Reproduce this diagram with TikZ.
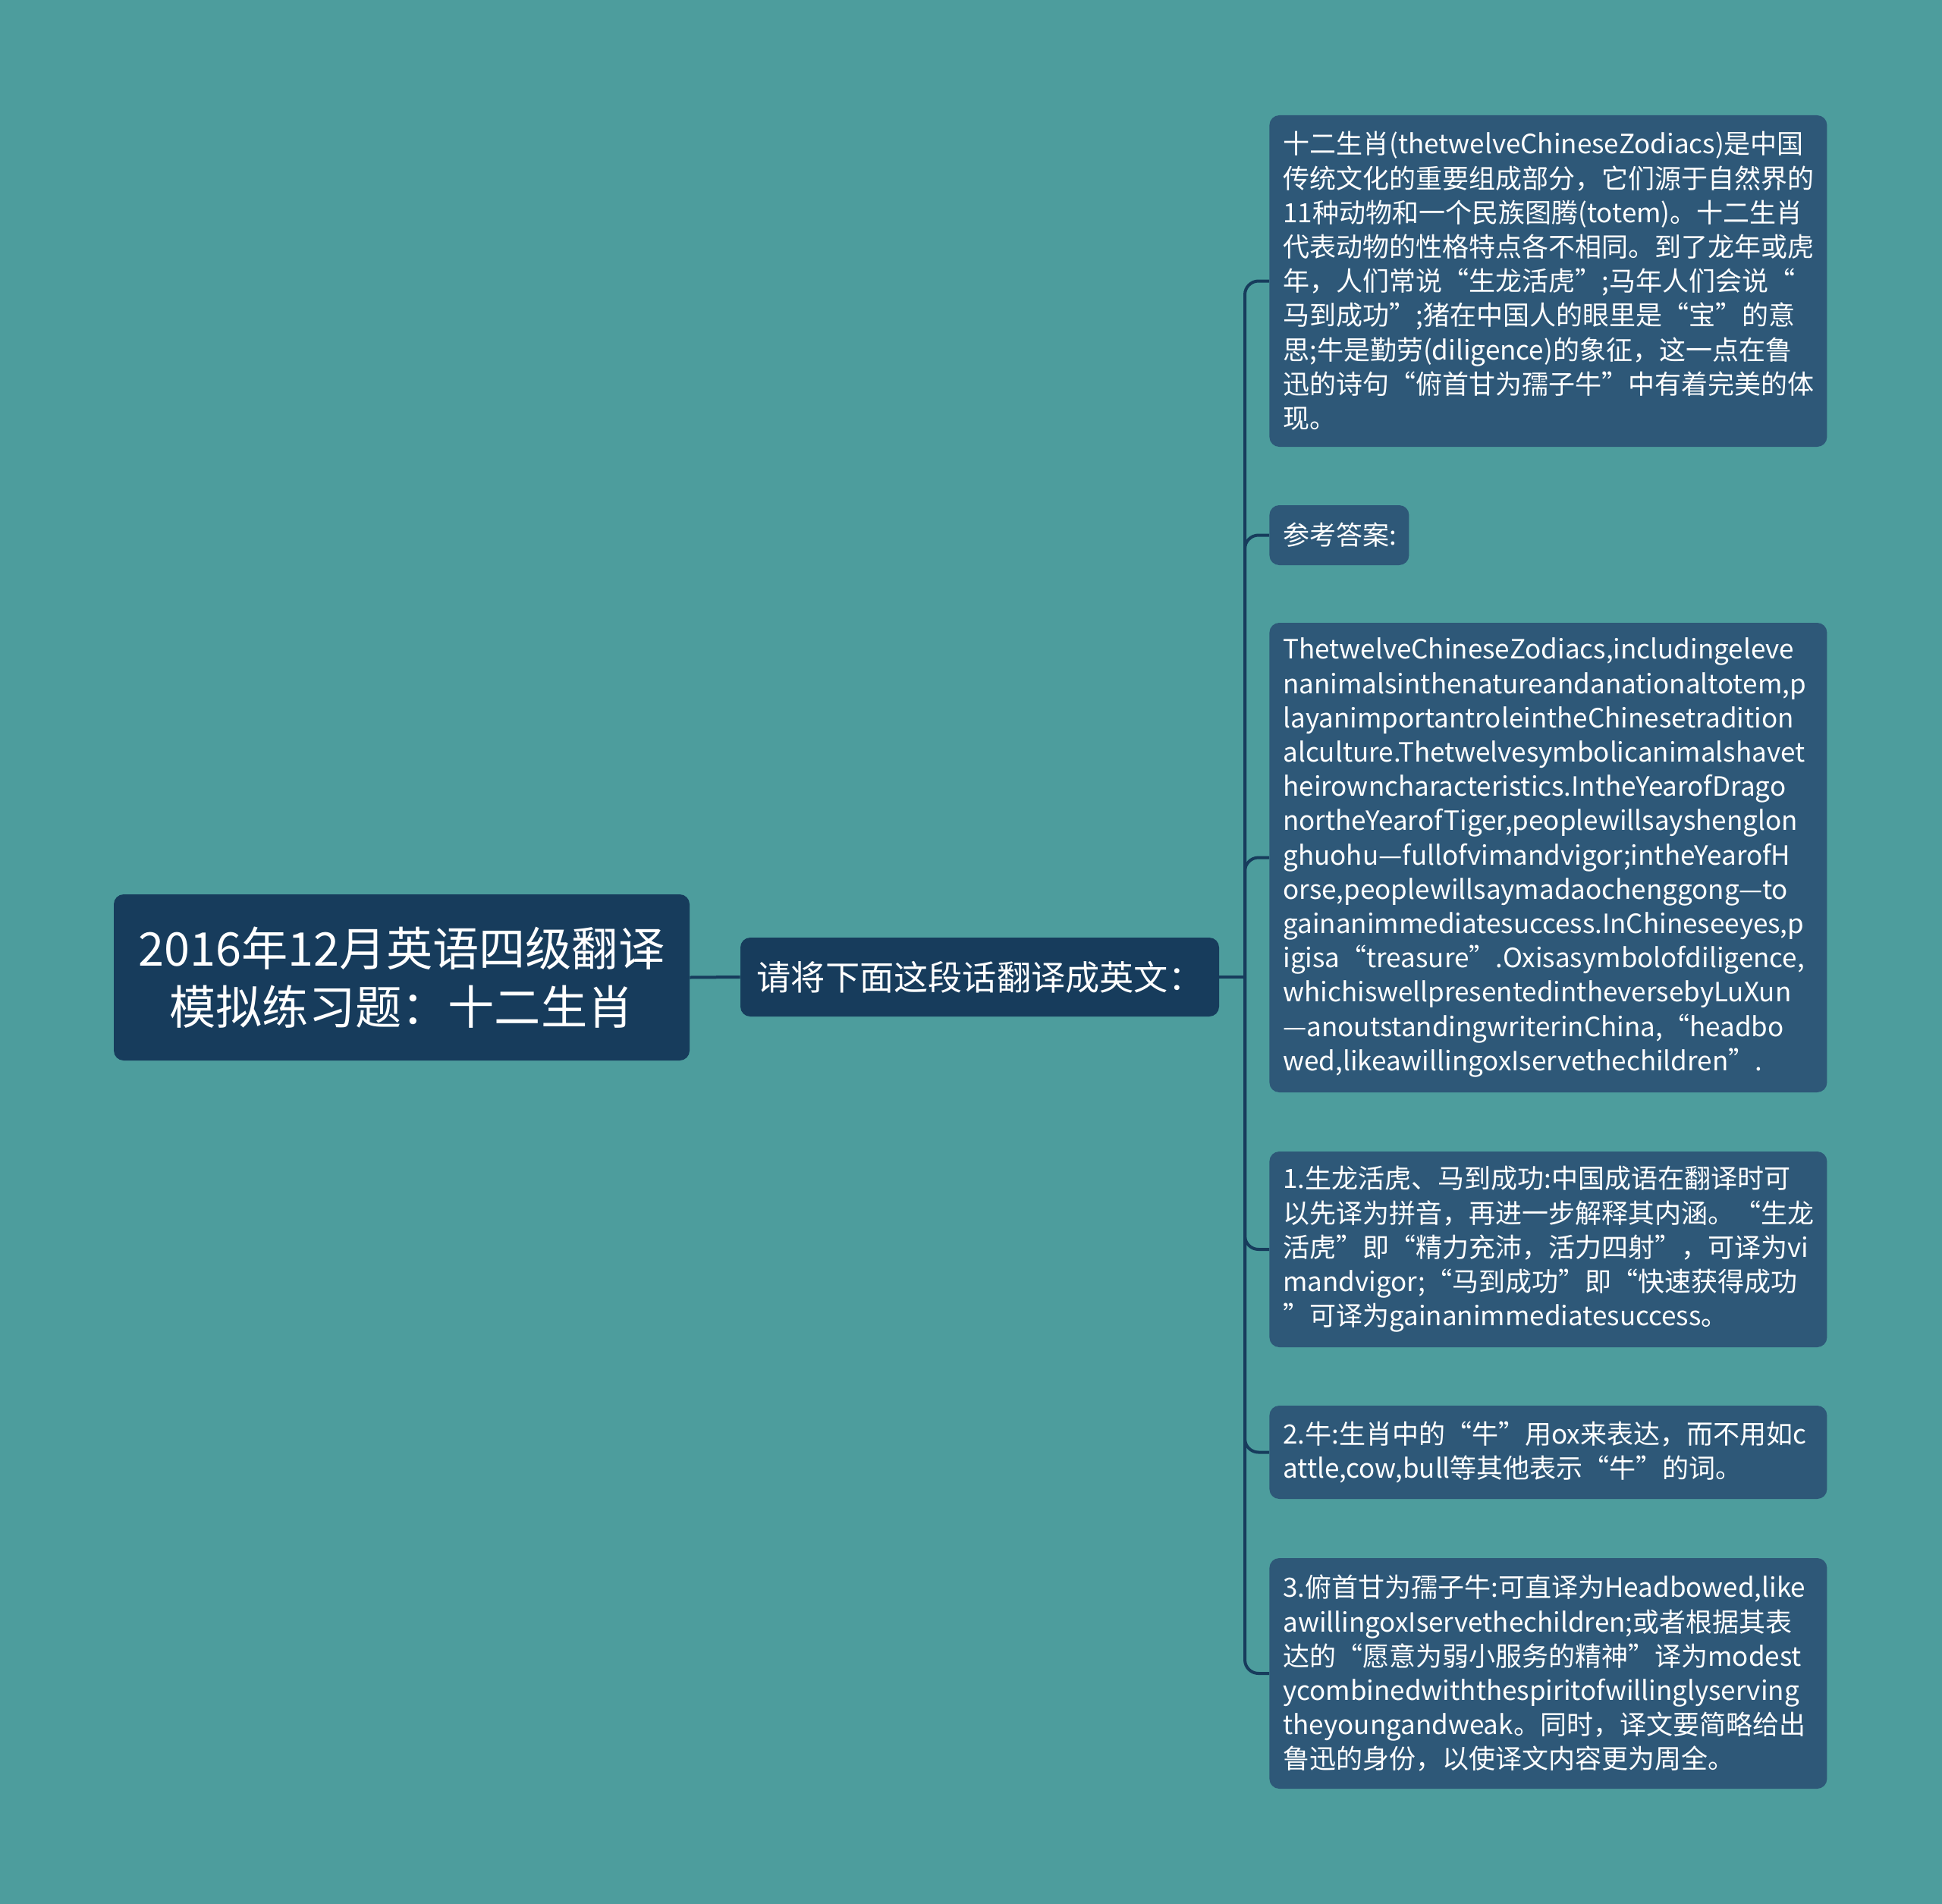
\documentclass[tikz,border=0pt]{standalone}
\usepackage{fontspec}
\setmainfont{Noto Sans CJK SC}
\definecolor{bgc}{RGB}{77,157,157}
\definecolor{darkc}{RGB}{23,60,92}
\definecolor{leafc}{RGB}{46,88,120}
\begin{document}
\begin{tikzpicture}[x=1pt,y=1pt]
\tikzset{
  rootbox/.style={fill=darkc, rounded corners=6.5pt, text=white, align=center, inner sep=0pt,
    font=\fontsize{30.6}{38.5}\selectfont},
  leafbox/.style={fill=leafc, rounded corners=6.5pt, text=white, align=left, inner xsep=9pt,
    inner ysep=0pt, anchor=west, text width=349.5pt, font=\fontsize{17.5}{22.6}\selectfont},
  conn/.style={draw=darkc, line width=2pt, rounded corners=9pt}
}
\fill[bgc] (0,0) rectangle (1280,-1255);
\useasboundingbox (0,0) rectangle (1280,-1255);

\node[rootbox, minimum width=379.5pt, minimum height=109.5pt] (root) at (264.75,-644.25)
  {2016年12月英语四级翻译\\模拟练习题：十二生肖};
\node[rootbox, minimum width=315.5pt, minimum height=52pt, font=\fontsize{22.6}{27}\selectfont] (mid) at (645.75,-644)
  {请将下面这段话翻译成英文：};

\node[leafbox, minimum height=218.5pt] (b1) at (836.5,-185.25) {%
十二生肖(thetwelveChineseZodiacs)是中国\\
传统文化的重要组成部分，它们源于自然界的\\
11种动物和一个民族图腾(totem)。十二生肖\\
代表动物的性格特点各不相同。到了龙年或虎\\
年，人们常说“生龙活虎”;马年人们会说“\\
马到成功”;猪在中国人的眼里是“宝”的意\\
思;牛是勤劳(diligence)的象征，这一点在鲁\\
迅的诗句“俯首甘为孺子牛”中有着完美的体\\
现。};

\node[leafbox, text width=74pt, minimum height=39.5pt] (b2) at (836.5,-352.75) {参考答案:};

\node[leafbox, minimum height=309.5pt] (b3) at (836.5,-565.25) {%
ThetwelveChineseZodiacs,includingeleve\\
nanimalsinthenatureandanationaltotem,p\\
layanimportantroleintheChinesetradition\\
alculture.Thetwelvesymbolicanimalshavet\\
heirowncharacteristics.IntheYearofDrago\\
northeYearofTiger,peoplewillsayshenglon\\
ghuohu—fullofvimandvigor;intheYearofH\\
orse,peoplewillsaymadaochenggong—to\\
gainanimmediatesuccess.InChineseeyes,p\\
igisa“treasure”.Oxisasymbolofdiligence,\\
whichiswellpresentedintheversebyLuXun\\
—anoutstandingwriterinChina,“headbo\\
wed,likeawillingoxIservethechildren”.};

\node[leafbox, minimum height=129pt] (b4) at (836.5,-823.5) {%
1.生龙活虎、马到成功:中国成语在翻译时可\\
以先译为拼音，再进一步解释其内涵。“生龙\\
活虎”即“精力充沛，活力四射”，可译为vi\\
mandvigor;“马到成功”即“快速获得成功\\
”可译为gainanimmediatesuccess。};

\node[leafbox, minimum height=61.5pt] (b5) at (836.5,-957.25) {%
2.牛:生肖中的“牛”用ox来表达，而不用如c\\
attle,cow,bull等其他表示“牛”的词。};

\node[leafbox, minimum height=152pt] (b6) at (836.5,-1103) {%
3.俯首甘为孺子牛:可直译为Headbowed,like\\
awillingoxIservethechildren;或者根据其表\\
达的“愿意为弱小服务的精神”译为modest\\
ycombinedwiththespiritofwillinglyserving\\
theyoungandweak。同时，译文要简略给出\\
鲁迅的身份，以使译文内容更为周全。};

\coordinate (sp) at (820.5,-644);
\draw[conn] (root.east) -- (mid.west);
\draw[conn] (mid.east) -- (sp);
\foreach \b in {b1,b2,b3,b4,b5,b6}
  \draw[conn] (sp) |- (\b.west);
\end{tikzpicture}
\end{document}
